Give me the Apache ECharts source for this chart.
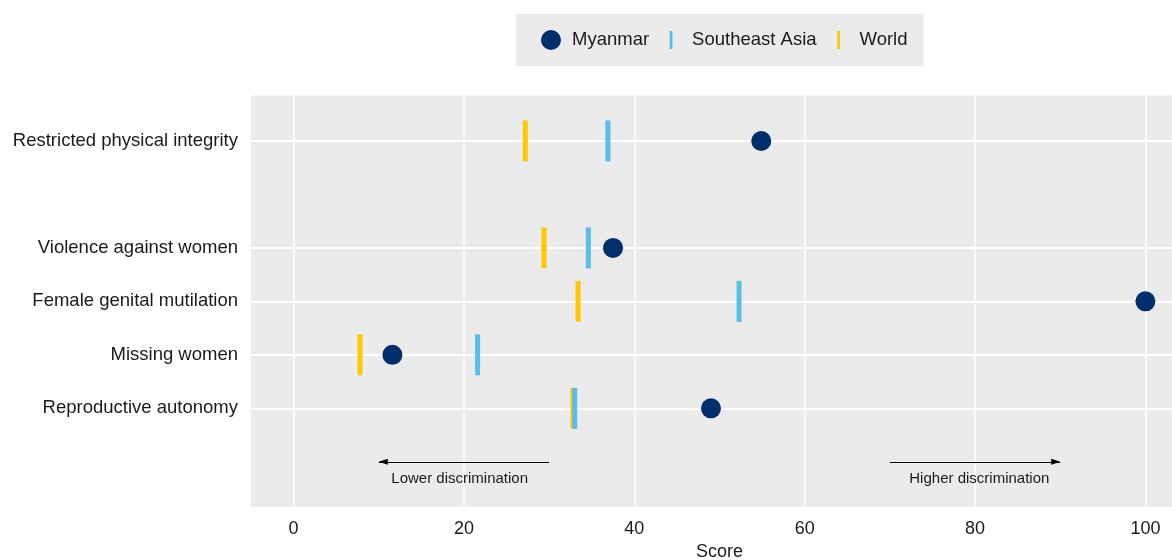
<!DOCTYPE html>
<html>
<head>
<meta charset="utf-8">
<script src="https://cdn.jsdelivr.net/npm/echarts@6/dist/echarts.min.js"></script>
<style>
html,body{margin:0;padding:0;background:#fff;}
#chart{width:1172px;height:560px;}
</style>
</head>
<body>
<div id="chart"></div>
<script>
// ---- data ----
const categories = ['Reproductive autonomy', 'Missing women', 'Female genital mutilation', 'Violence against women', 'Restricted physical integrity'];
const rowPositions = [1, 2, 3, 4, 6];
const myanmar = [49.0, 11.6, 100, 37.5, 54.9];
const southeastAsia = [33.0, 21.6, 52.3, 34.6, 36.9];
const world = [32.8, 7.8, 33.4, 29.4, 27.2];
const xTickValues = [0, 20, 40, 60, 80, 100];
const arrowLower = { from: 30, to: 10, textX: 19.5, text: 'Lower discrimination' };
const arrowHigher = { from: 70, to: 90, textX: 80.5, text: 'Higher discrimination' };
const arrowRow = 0;

const FONT = '"Liberation Sans", Arial, sans-serif';
const C_MM = '#002f6c', C_SEA = '#58bde9', C_WORLD = '#ffc800';

const pts = (vals) => vals.map((v, i) => [v, rowPositions[i]]);
const labelFor = {};
rowPositions.forEach((p, i) => { labelFor[p] = categories[i]; });

const barIcon = 'path://M0,0M20,20M8.6,1h2.8v18h-2.8z';
// arrow head whose tip sits at the symbol centre (line end)
const arrowHead = 'path://M-4,-9M14,9M5,0L8,9L2,9Z';

const chart = echarts.init(document.getElementById('chart'), null, { renderer: 'canvas' });
chart.setOption({
  animation: false,
  backgroundColor: '#ffffff',
  textStyle: { fontFamily: FONT },
  legend: {
    left: 516, top: 14,
    padding: [16, 16, 16, 25],
    backgroundColor: '#ebebeb',
    itemWidth: 20, itemHeight: 20, itemGap: 12,
    textStyle: { fontFamily: FONT, fontSize: 18.5, color: '#1a1a1a', padding: [0, 0, 0, 6] },
    data: [
      { name: 'Myanmar', icon: 'circle' },
      { name: 'Southeast Asia', icon: barIcon },
      { name: 'World', icon: barIcon }
    ]
  },
  grid: {
    left: 251, top: 95.5, right: -16, bottom: 53.3,
    outerBoundsMode: 'none', containLabel: false,
    show: true, backgroundColor: '#ebebeb', borderWidth: 0
  },
  xAxis: {
    type: 'value', min: -5, max: 105,
    name: 'Score', nameLocation: 'middle', nameGap: 33,
    nameTextStyle: { fontFamily: FONT, fontSize: 18, color: '#1a1a1a' },
    axisLine: { show: false },
    axisTick: { show: false, customValues: xTickValues },
    axisLabel: { customValues: xTickValues, fontFamily: FONT, fontSize: 18, color: '#1a1a1a', margin: 13 },
    splitLine: { show: true, lineStyle: { color: '#ffffff', width: 1.5 } }
  },
  yAxis: {
    type: 'value', min: -0.84, max: 6.85,
    axisLine: { show: false },
    axisTick: { show: false, customValues: rowPositions },
    axisLabel: {
      customValues: rowPositions, fontFamily: FONT, fontSize: 18.5, color: '#1a1a1a', margin: 13,
      formatter: (v) => labelFor[v] || ''
    },
    splitLine: { show: true, lineStyle: { color: '#ffffff', width: 2 } }
  },
  series: [
    {
      name: 'World', type: 'scatter', symbol: 'rect', symbolSize: [5, 41],
      itemStyle: { color: C_WORLD, opacity: 1 }, data: pts(world), z: 3
    },
    {
      name: 'Southeast Asia', type: 'scatter', symbol: 'rect', symbolSize: [5, 41],
      itemStyle: { color: C_SEA, opacity: 1 }, data: pts(southeastAsia), z: 4
    },
    {
      name: 'Myanmar', type: 'scatter', symbol: 'circle', symbolSize: 20,
      itemStyle: { color: C_MM, opacity: 1 }, data: pts(myanmar), z: 5
    },
    {
      name: 'arrows', type: 'lines', coordinateSystem: 'cartesian2d', silent: true,
      symbol: ['none', arrowHead], symbolSize: 18,
      lineStyle: { color: '#000000', width: 1.2, opacity: 1 },
      data: [
        { coords: [[arrowLower.from, arrowRow], [arrowLower.to, arrowRow]] },
        { coords: [[arrowHigher.from, arrowRow], [arrowHigher.to, arrowRow]] }
      ],
      z: 6
    },
    {
      name: 'arrowText', type: 'scatter', silent: true, symbolSize: 0,
      itemStyle: { opacity: 1 },
      label: {
        show: true, position: 'bottom', distance: 10,
        fontFamily: FONT, fontSize: 15, color: '#1a1a1a',
        formatter: (p) => p.data[2]
      },
      data: [
        [arrowLower.textX, arrowRow, arrowLower.text],
        [arrowHigher.textX, arrowRow, arrowHigher.text]
      ],
      z: 6
    }
  ]
});
</script>
</body>
</html>
